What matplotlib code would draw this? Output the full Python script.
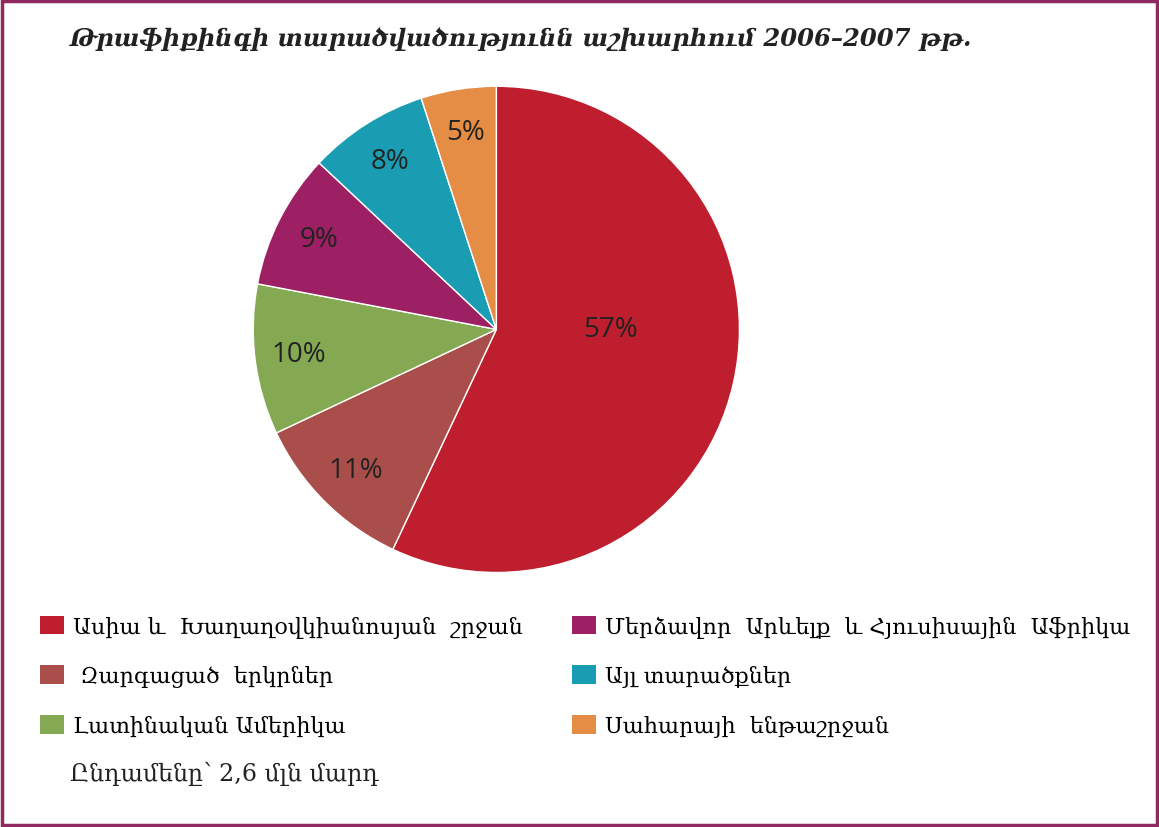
import matplotlib
matplotlib.use("Agg")
import matplotlib.pyplot as plt
from matplotlib.patches import Rectangle, Patch

regions = ["Ասիա և  Խաղաղօվկիանոսյան  շրջան",
           " Զարգացած  երկրներ",
           "Լատինական Ամերիկա",
           "Մերձավոր  Արևելք  և Հյուսիսային  Աֆրիկա",
           "Այլ տարածքներ",
           "Սահարայի  ենթաշրջան"]
shares = [57, 11, 10, 9, 8, 5]
colors = ["#BE1E2D", "#A94E4A", "#84A952", "#9C2063", "#1A9DB3", "#E58D45"]
title = "Թրաֆիքինգի տարածվածությունն աշխարհում 2006–2007 թթ."
total_note = "Ընդամենը՝ 2,6 մլն մարդ"

fig = plt.figure(figsize=(11.59, 8.28), dpi=100)
ax = fig.add_axes([0.166, 0.234, 0.5245, 0.734])

wedges, texts, autotexts = ax.pie(
    shares, colors=colors, startangle=90, counterclock=False,
    autopct="%d%%", pctdistance=0.82,
    wedgeprops=dict(edgecolor="white", linewidth=1.0),
    textprops=dict(fontsize=20, family="Open Sans", color="#222222"))
ax.set_aspect("equal")

# largest slice label sits closer to the centre, level with it
x, y = autotexts[0].get_position()
autotexts[0].set_position((x * 0.48 / 0.82, 0.0))

fig.text(0.06, 0.952, title, fontsize=17.5, fontweight="bold", fontstyle="italic",
         family="DejaVu Serif", va="center", ha="left", color="#222222")

handles = [Patch(facecolor=c) for c in colors]
fig.legend(handles, regions, ncol=2, loc="upper left", bbox_to_anchor=(0.017, 0.28),
           frameon=False, prop=dict(family="DejaVu Serif", size=16),
           handlelength=1.1, handleheight=0.9, handletextpad=0.4,
           labelspacing=1.25, columnspacing=2.2)

fig.text(0.06, 0.065, total_note, fontsize=17, family="DejaVu Serif",
         va="center", ha="left", color="#222222")

fig.patches.append(Rectangle((0.002, 0.003), 0.996, 0.994, transform=fig.transFigure,
                             fill=False, edgecolor="#8E2A5F", linewidth=2.5))

fig.savefig("out.png", dpi=100)
